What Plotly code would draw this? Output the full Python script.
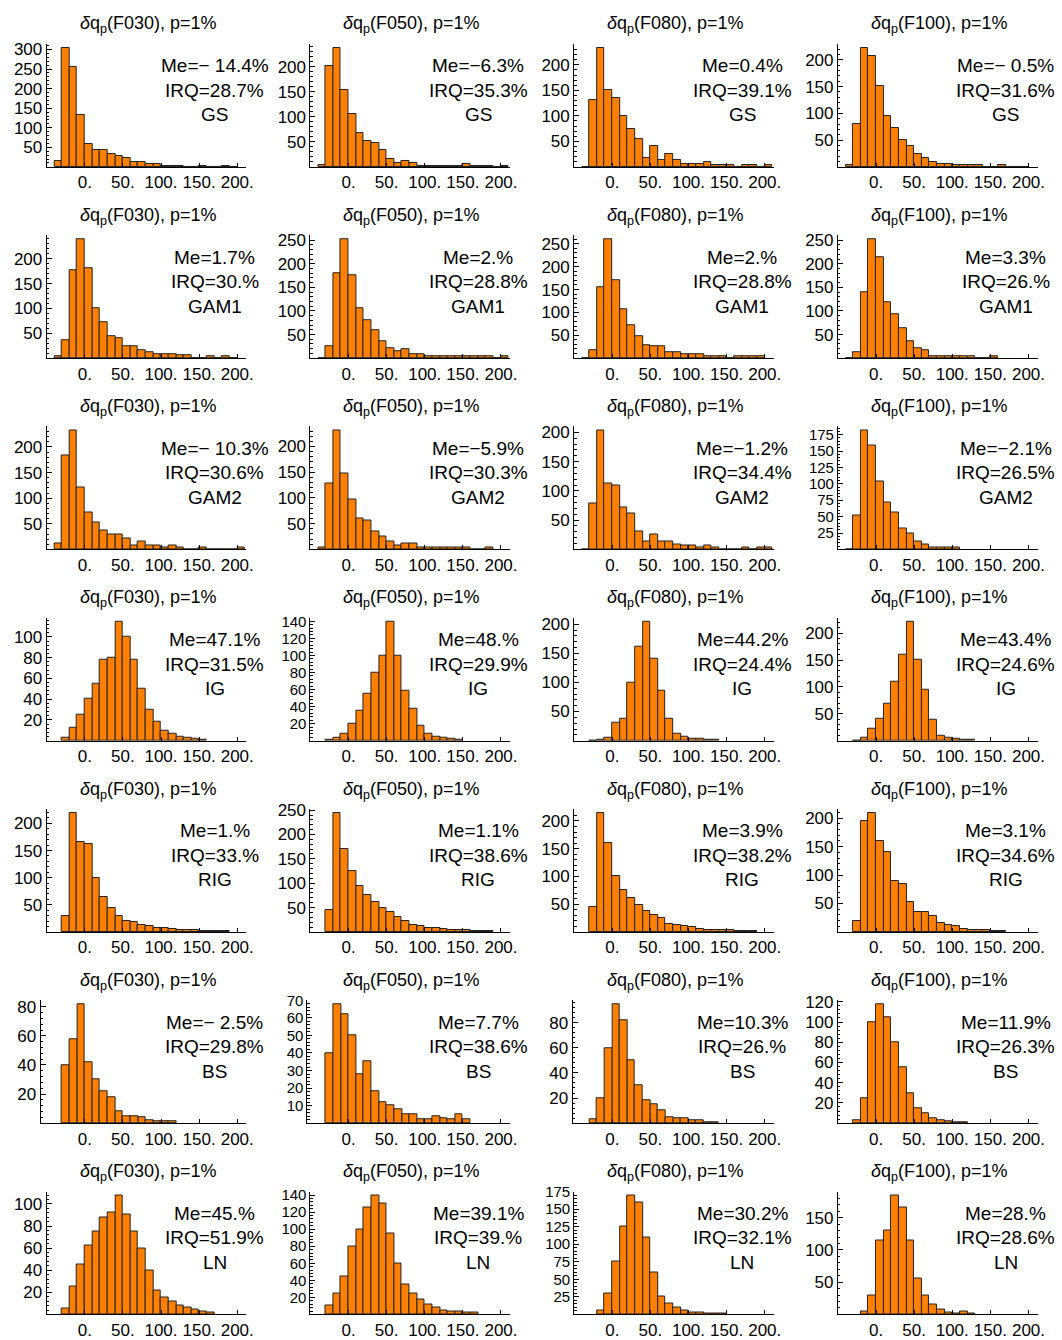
import plotly.graph_objects as go

BIN_W = 10
FLOWS = ["F030", "F050", "F080", "F100"]
MODELS = ["GS", "GAM1", "GAM2", "IG", "RIG", "BS", "LN"]

# ---- histogram counts (bins of width 10, first bin left edge given) ----
gs_start = [-40, -40, -40, -40]
gs_f030 = [15, 305, 255, 133, 58, 42, 42, 32, 27, 22, 12, 12, 7, 7, 3, 3, 3, 0, 0, 3, 0, 0, 3, 0]
gs_f050 = [3, 202, 238, 153, 105, 68, 52, 47, 33, 16, 7, 12, 8, 2, 2, 2, 2, 2, 2, 5, 2, 2, 2, 0, 2]
gs_f080 = [0, 132, 234, 150, 136, 100, 74, 54, 18, 41, 14, 25, 14, 6, 6, 6, 10, 3, 3, 3, 0, 3, 3, 0, 3]
gs_f100 = [3, 80, 223, 208, 151, 95, 72, 50, 39, 24, 17, 10, 6, 6, 3, 3, 3, 3, 0, 0, 3, 0, 0, 0]

gam1_start = [-40, -40, -40, -40]
gam1_f030 = [3, 36, 177, 240, 180, 100, 72, 44, 40, 24, 24, 16, 12, 8, 8, 8, 5, 5, 0, 0, 3, 0, 3, 0]
gam1_f050 = [0, 25, 181, 253, 176, 105, 80, 59, 35, 21, 14, 18, 8, 8, 4, 4, 4, 4, 4, 4, 4, 4, 4, 0, 4]
gam1_f080 = [0, 17, 155, 261, 170, 108, 73, 48, 29, 25, 25, 12, 12, 8, 8, 8, 4, 4, 4, 0, 4, 4, 4, 4]
gam1_f100 = [0, 13, 139, 253, 215, 118, 93, 63, 35, 21, 17, 4, 4, 4, 4, 4, 4, 0, 0, 4]

gam2_start = [-40, -40, -40, -40]
gam2_f030 = [12, 183, 233, 120, 73, 52, 37, 30, 30, 22, 7, 15, 7, 7, 3, 7, 3, 0, 0, 3, 0, 0, 0, 0, 3]
gam2_f050 = [3, 128, 232, 147, 97, 61, 57, 35, 25, 15, 7, 12, 12, 3, 3, 3, 3, 3, 3, 3, 0, 0, 3]
gam2_f080 = [0, 78, 204, 112, 109, 71, 62, 31, 13, 26, 13, 13, 9, 6, 6, 3, 6, 3, 0, 0, 0, 3, 0, 3, 3]
gam2_f100 = [0, 51, 182, 158, 104, 72, 57, 32, 24, 12, 8, 3, 3, 3, 3]

ig_start = [-30, -30, -30, -30]
ig_f030 = [3, 12, 25, 40, 55, 78, 80, 115, 100, 78, 50, 30, 18, 10, 7, 4, 3, 2, 1]
ig_f050 = [1, 3, 8, 20, 35, 55, 80, 100, 140, 100, 58, 38, 18, 8, 5, 3, 2, 1]
ig_f080 = [0, 2, 5, 30, 38, 100, 162, 205, 140, 85, 38, 12, 6, 4, 3, 2, 1]
ig_f100 = [0, 5, 22, 40, 68, 110, 160, 222, 150, 95, 38, 10, 5, 3, 2, 1]

rig_start = [-30, -30, -30, -30]
rig_f030 = [30, 220, 165, 162, 100, 65, 45, 30, 20, 18, 12, 10, 8, 8, 5, 4, 3, 3, 2, 2, 2, 1]
rig_f050 = [45, 245, 170, 125, 95, 75, 62, 50, 40, 30, 22, 15, 12, 8, 8, 5, 4, 3, 3, 2, 2, 2]
rig_f080 = [45, 215, 160, 100, 75, 62, 48, 38, 30, 25, 15, 12, 10, 8, 5, 4, 3, 3, 3, 2, 2, 2]
rig_f100 = [20, 195, 210, 160, 140, 90, 85, 52, 35, 35, 28, 15, 12, 10, 5, 4, 3, 3, 2, 2]

bs_start = [-30, -30, -30, -30]
bs_f030 = [40, 58, 82, 42, 30, 22, 18, 8, 5, 5, 4, 2, 1, 1, 1]
bs_f050 = [40, 68, 62, 50, 28, 35, 18, 12, 10, 8, 5, 5, 2, 2, 4, 3, 2, 5, 2]
bs_f080 = [3, 20, 60, 95, 82, 50, 30, 18, 15, 10, 5, 4, 4, 2, 2, 1, 1]
bs_f100 = [3, 25, 100, 118, 105, 80, 55, 30, 15, 10, 5, 3, 2, 1, 1]

ln_start = [-30, -30, -20, -20]
ln_f030 = [5, 25, 45, 62, 75, 88, 92, 108, 90, 75, 60, 40, 22, 15, 12, 8, 6, 4, 3, 2]
ln_f050 = [10, 25, 45, 80, 100, 125, 140, 130, 95, 60, 35, 25, 18, 12, 8, 5, 4, 3, 2, 2]
ln_f080 = [5, 30, 75, 125, 170, 160, 110, 60, 25, 15, 10, 5, 3, 3, 2, 2, 1]
ln_f100 = [5, 30, 115, 130, 185, 165, 115, 55, 30, 15, 8, 3, 1, 5, 1]

# ---- statistics shown in each panel ----
gs_me = ["− 14.4", "−6.3", "0.4", "− 0.5"]
gs_irq = ["28.7", "35.3", "39.1", "31.6"]
gam1_me = ["1.7", "2.", "2.", "3.3"]
gam1_irq = ["30.", "28.8", "28.8", "26."]
gam2_me = ["− 10.3", "−5.9", "−1.2", "−2.1"]
gam2_irq = ["30.6", "30.3", "34.4", "26.5"]
ig_me = ["47.1", "48.", "44.2", "43.4"]
ig_irq = ["31.5", "29.9", "24.4", "24.6"]
rig_me = ["1.", "1.1", "3.9", "3.1"]
rig_irq = ["33.", "38.6", "38.2", "34.6"]
bs_me = ["− 2.5", "7.7", "10.3", "11.9"]
bs_irq = ["29.8", "38.6", "26.", "26.3"]
ln_me = ["45.", "39.1", "30.2", "28."]
ln_irq = ["51.9", "39.", "32.1", "28.6"]

# y tick step per panel
gs_dt = [50, 50, 50, 50]
gam1_dt = [50, 50, 50, 50]
gam2_dt = [50, 50, 50, 25]
ig_dt = [20, 20, 50, 50]
rig_dt = [50, 50, 50, 50]
bs_dt = [20, 10, 20, 20]
ln_dt = [20, 20, 25, 50]

# left end of the x range per panel
gs_xmin = [-50, -50, -50, -50]
gam1_xmin = [-50, -50, -50, -50]
gam2_xmin = [-50, -50, -50, -50]
ig_xmin = [-50, -50, -50, -50]
rig_xmin = [-50, -50, -50, -50]
bs_xmin = [-58, -54, -52, -50]
ln_xmin = [-50, -50, -50, -50]

x_ticks = [0, 50, 100, 150, 200]
x_ticktext = ["0.", "50.", "100.", "150.", "200."]

rows = [
    ("GS", gs_start, [gs_f030, gs_f050, gs_f080, gs_f100], gs_me, gs_irq, gs_dt, gs_xmin),
    ("GAM1", gam1_start, [gam1_f030, gam1_f050, gam1_f080, gam1_f100], gam1_me, gam1_irq, gam1_dt, gam1_xmin),
    ("GAM2", gam2_start, [gam2_f030, gam2_f050, gam2_f080, gam2_f100], gam2_me, gam2_irq, gam2_dt, gam2_xmin),
    ("IG", ig_start, [ig_f030, ig_f050, ig_f080, ig_f100], ig_me, ig_irq, ig_dt, ig_xmin),
    ("RIG", rig_start, [rig_f030, rig_f050, rig_f080, rig_f100], rig_me, rig_irq, rig_dt, rig_xmin),
    ("BS", bs_start, [bs_f030, bs_f050, bs_f080, bs_f100], bs_me, bs_irq, bs_dt, bs_xmin),
    ("LN", ln_start, [ln_f030, ln_f050, ln_f080, ln_f100], ln_me, ln_irq, ln_dt, ln_xmin),
]

W, H = 1062, 1340
CELL_W = 265.5
ROW_H = 191.4
PLOT_LEFT = 47
X_MAX = 212
PX_PER_UNIT = 201 / 262.0
PLOT_TOP = 43
PLOT_H = 123
FONT = "Liberation Sans, Arial, sans-serif"
ORANGE = "#FF8000"


def py(y):
    """target screen y (px from top) -> paper fraction, with render offset compensation"""
    ys = (y - 8) * H / (H - 8)
    return 1 - ys / H


fig = go.Figure()
annotations = []
layout = {}

k = 0
for r, (model, starts, counts_list, me, irq, dts, xmins) in enumerate(rows):
    for c in range(4):
        k += 1
        counts = counts_list[c]
        start = starts[c]
        centers = [start + BIN_W * (i + 0.5) for i in range(len(counts))]
        ax = "" if k == 1 else str(k)
        fig.add_trace(go.Bar(
            x=centers, y=counts, width=BIN_W,
            marker=dict(color=ORANGE, line=dict(color="#222222", width=1)),
            xaxis="x" + ax, yaxis="y" + ax, showlegend=False, hoverinfo="x+y"))
        xmin = xmins[c]
        left = c * CELL_W + PLOT_LEFT + (xmin + 50) * PX_PER_UNIT
        right = c * CELL_W + PLOT_LEFT + 201
        top = r * ROW_H + PLOT_TOP
        x0, x1 = left / W, right / W
        y1 = py(top)
        y0 = py(top + PLOT_H)
        ymax = max(counts) * 1.03
        dt = dts[c]
        yt = [v for v in range(dt, int(ymax) + 1, dt)]
        px_per_tick = PLOT_H * dt / ymax
        yfs = 17 if px_per_tick >= 18 else 15
        layout["xaxis" + ax] = dict(
            domain=[x0, x1], range=[xmin, X_MAX], anchor="y" + ax,
            tickmode="array", tickvals=x_ticks, ticktext=x_ticktext,
            ticks="inside", ticklen=4, tickcolor="black",
            showline=True, linecolor="black", linewidth=1,
            showgrid=False, zeroline=False,
            tickfont=dict(family=FONT, size=17, color="black"))
        layout["yaxis" + ax] = dict(
            domain=[y0, y1], range=[0, ymax], anchor="x" + ax,
            tickmode="array", tickvals=yt, ticks="inside", ticklen=5,
            tickcolor="black",
            minor=dict(tickmode="linear", tick0=0, dtick=dt / 5, ticks="inside",
                       ticklen=2.5, tickcolor="black", showgrid=False),
            showline=True, linecolor="black", linewidth=1,
            showgrid=False, zeroline=False,
            tickfont=dict(family=FONT, size=yfs, color="black"))
        # title
        ty = r * ROW_H + 24
        annotations.append(dict(
            text="<i>δ</i>q<sub>p</sub>(" + FLOWS[c] + "), p=1%",
            x=(c * CELL_W + 149) / W, y=py(ty), xref="paper", yref="paper",
            xanchor="center", yanchor="middle", showarrow=False,
            font=dict(family=FONT, size=18, color="black")))
        cx = (c * CELL_W + 216) / W
        for j, txt in enumerate(["Me=" + me[c] + "%", "IRQ=" + irq[c] + "%", model]):
            yy = r * ROW_H + 65 + 24.5 * j
            annotations.append(dict(
                text=txt, x=cx, y=py(yy), xref="paper", yref="paper",
                xanchor="center", yanchor="middle", showarrow=False,
                font=dict(family=FONT, size=19, color="black")))

fig.update_layout(
    width=W, height=H, margin=dict(l=0, r=0, t=0, b=0),
    paper_bgcolor="white", plot_bgcolor="white",
    bargap=0, annotations=annotations, **layout)

fig.write_html("out.html")
